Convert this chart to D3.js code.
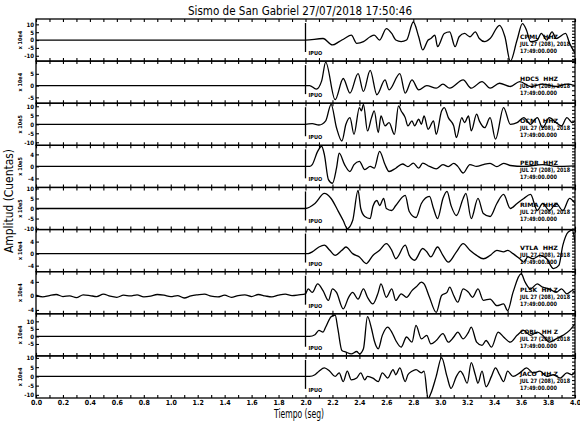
<!DOCTYPE html>
<html><head><meta charset="utf-8">
<script src="https://cdn.jsdelivr.net/npm/d3@7"></script>
<style>body{margin:0;background:#fff} svg{display:block}</style>
</head><body><svg id="c" width="580" height="428"></svg>
<script>
// ---------- data ----------
const title = "Sismo de San Gabriel 27/07/2018 17:50:46";
const xTitle = "Tiempo (seg)";
const yTitle = "Amplitud (Cuentas)";
const stations = ["CPML  HHZ","HDC5  HHZ","OCM   HHZ","PEDR  HHZ","RIMA  HHZ","VTLA  HHZ","PLSK  HH Z","COBL  HH Z","JACO  HH Z"];
const dateLabel = "JUL 27 (208), 2018";
const timeLabel = "17:49:00.000";
const pickLabel = "IPUO";
const pickTime = 2.0;
const exponents = ["x 10e4","x 10e4","x 10e5","x 10e5","x 10e5","x 10e4","x 10e4","x 10e4","x 10e4"];
const yDomains = [[-13.4,13.4],[-7.5,10.4],[-11.7,11.7],[-7,7],[-10.5,10.5],[-6,8],[-5.1,6.9],[-12.9,15],[-11.7,11.1]];
const yTickValues = [[-10,-5,0,5,10],[-5,0,5],[-10,-5,0,5,10],[-4,0,4],[-10,-5,0,5,10],[-4,0,4],[-4,0,4],[-5,0,5,10],[-10,-5,0,5,10]];
const xTickLabels = ["0.0","0.2","0.4","0.6","0.8","1.0","1.2","1.4","1.6","1.8","2.0","2.2","2.4","2.6","2.8","3.0","3.2","3.4","3.6","3.8","4.0"];

const trace1 = [[0,0],[1.9,0],[2.0,0],[2.13,1.0],[2.20,-3.1],[2.25,-1.0],[2.29,1.0],[2.34,3.1],[2.38,-2.1],[2.43,-1.0],[2.48,2.1],[2.51,3.1],[2.55,0],[2.60,7.3],[2.64,4.2],[2.67,0],[2.71,-1.0],[2.75,0],[2.80,11.5],[2.84,2.1],[2.87,-6.3],[2.91,0],[2.93,1.0],[2.96,3.1],[2.98,-4.2],[3.03,4.2],[3.07,5.2],[3.11,-4.2],[3.14,2.1],[3.18,4.2],[3.22,2.1],[3.26,5.2],[3.29,1.0],[3.33,-1.0],[3.37,1.0],[3.44,9.4],[3.48,2.1],[3.52,-13.5],[3.57,0],[3.61,10.4],[3.64,6.3],[3.67,-1.0],[3.72,0],[3.75,4.2],[3.79,0],[3.83,5.2],[3.86,1.0],[3.93,4.2],[3.96,-2.1],[4.00,-8.3]];
const trace2 = [[0,0],[1.9,0],[2.0,0],[2.03,0],[2.08,-1.5],[2.12,2],[2.15,10],[2.22,-6],[2.28,3],[2.33,-3.2],[2.39,5.1],[2.43,-2.5],[2.48,6.5],[2.53,-3.9],[2.59,2.4],[2.62,-1.8],[2.70,5.1],[2.74,-3.2],[2.79,2.4],[2.84,-1.8],[2.90,0],[2.97,-1.1],[3.02,0.6],[3.07,-1.1],[3.17,2.4],[3.23,-1.1],[3.31,1.7],[3.37,-1.1],[3.44,1],[3.52,-0.4],[3.59,1.7],[3.67,-0.4],[3.76,0.6],[3.86,-0.4],[3.94,0.6],[4.0,0]];
const trace3 = [[0,0],[1.9,0],[2.0,0],[2.05,0.4],[2.10,-0.4],[2.15,1.9],[2.19,11.1],[2.23,-1.9],[2.27,-9.3],[2.30,0],[2.33,3.7],[2.36,-5.6],[2.40,9.3],[2.415,7.5],[2.43,11.1],[2.46,-3.7],[2.49,3.7],[2.51,7.4],[2.54,-4.6],[2.56,4.6],[2.59,-0.9],[2.62,0.9],[2.66,-5.6],[2.69,10.2],[2.71,7.4],[2.74,3.7],[2.76,-0.9],[2.79,1.9],[2.81,-0.9],[2.84,2.8],[2.86,0],[2.88,4.6],[2.91,-2.8],[2.95,1.9],[2.97,-5.6],[3.01,7.4],[3.03,9.3],[3.06,3.7],[3.10,-0.9],[3.12,-7.4],[3.16,3.7],[3.18,0.9],[3.21,4.6],[3.23,-3.7],[3.27,5.6],[3.29,1.9],[3.33,-1.9],[3.37,3.7],[3.41,-8.3],[3.47,9.3],[3.52,0],[3.57,0.9],[3.62,3.7],[3.67,0],[3.72,3.7],[3.76,-1.9],[3.81,3.7],[3.86,0.9],[3.90,-0.9],[3.94,3.7],[3.98,0.9],[4.0,1.9]];
const trace4 = [[0,0],[1.9,0],[2.0,0],[2.03,0],[2.05,0.6],[2.09,5],[2.12,6.7],[2.14,3.9],[2.17,-4.4],[2.20,-5.6],[2.23,-0.6],[2.25,4.4],[2.29,0.6],[2.33,-1.7],[2.36,0.6],[2.40,1.7],[2.44,-1.1],[2.48,0],[2.51,-0.6],[2.55,5],[2.59,0.6],[2.62,-1.7],[2.67,-0.6],[2.72,0.8],[2.76,-0.1],[2.80,1.1],[2.84,-0.6],[2.87,1.1],[2.92,0],[2.97,-0.8],[3.02,0.6],[3.06,-0.1],[3.10,1],[3.13,0],[3.17,-2.2],[3.22,0.6],[3.27,0],[3.32,0.6],[3.37,1],[3.42,-0.1],[3.47,1],[3.52,0.3],[3.62,0],[3.76,0.6],[3.86,0],[4.0,0.2]];
const trace5 = [[0,0],[1.9,0],[2.0,0],[2.07,2.5],[2.14,7.5],[2.19,5],[2.24,-1],[2.28,-6],[2.31,-10],[2.35,-6],[2.39,9],[2.41,0],[2.44,-4],[2.48,-5],[2.50,1],[2.53,4],[2.55,1.5],[2.58,5],[2.60,0],[2.64,-1],[2.67,1.5],[2.74,6.5],[2.77,-1.5],[2.82,-4.5],[2.86,2.5],[2.92,6],[2.95,0],[2.98,-5],[3.02,5],[3.05,8.5],[3.08,1.5],[3.12,-3.5],[3.17,5],[3.19,7.5],[3.23,-5],[3.28,5],[3.32,-2.5],[3.37,-4],[3.42,2.5],[3.47,7],[3.52,0],[3.57,2.5],[3.62,5],[3.67,7],[3.72,-1],[3.76,2.5],[3.81,-1],[3.86,2.5],[3.91,-1],[3.96,5],[4.0,2.5]];
const trace6 = [[0,0],[1.9,0],[2.0,0],[2.02,0],[2.05,0.6],[2.10,2.2],[2.14,2.8],[2.18,1.1],[2.22,-0.6],[2.27,1.1],[2.30,2.2],[2.35,0],[2.40,-1.1],[2.45,-3.3],[2.50,-0.6],[2.55,1.1],[2.60,3.3],[2.64,1.1],[2.67,-1.7],[2.74,2.8],[2.77,-0.6],[2.81,-2.2],[2.87,1.7],[2.90,0.6],[2.93,-1.1],[2.98,2.2],[3.02,-0.6],[3.06,-2.8],[3.12,0.6],[3.17,3.3],[3.22,1.1],[3.27,-0.6],[3.32,-1.7],[3.37,-0.6],[3.42,1.1],[3.47,0.6],[3.50,1.1],[3.54,0],[3.59,-1.7],[3.62,-2.8],[3.65,-1.1],[3.69,-1.7],[3.74,-0.6],[3.79,-1.7],[3.84,-5],[3.88,-3.9],[3.91,2.8],[3.95,7.2],[3.98,7.8],[4.0,3.9]];
const noise7 = [0.2,-0.3,0.1,0.4,-0.2,0.0,-0.5,0.3,0.1,-0.2,0.5,-0.1,-0.4,0.2,0.0,0.3,-0.3,-0.1,0.4,0.2,-0.2,0.1,-0.6,0.0,0.3,0.5,-0.1,-0.3,0.2,-0.4,0.1,0.3,-0.2,0.4,0.0,-0.3,0.2,0.5,0.1,0.3];
const trace7 = [[2.0,0.6],[2.02,2.0],[2.05,1.0],[2.09,3.4],[2.13,1.5],[2.17,-1.3],[2.20,2.0],[2.23,1.0],[2.28,-3.7],[2.32,-0.4],[2.35,1.0],[2.39,-0.9],[2.43,2.0],[2.46,-0.4],[2.50,-2.3],[2.54,1.0],[2.56,3.4],[2.60,-0.4],[2.64,2.0],[2.67,-1.3],[2.71,0.6],[2.75,-0.4],[2.79,1.5],[2.82,2.5],[2.86,3.9],[2.88,3.4],[2.92,-0.4],[2.97,-4.7],[3.01,0.1],[3.05,1.0],[3.07,2.5],[3.10,0.1],[3.13,-1.8],[3.17,2.0],[3.21,1.0],[3.24,-0.4],[3.28,2.0],[3.32,-1.3],[3.37,-0.9],[3.42,-2.8],[3.47,-2.3],[3.50,-4.2],[3.54,1.0],[3.60,6.3],[3.63,3.9],[3.67,2.0],[3.72,3.4],[3.76,2.5],[3.81,2.0],[3.86,1.0],[3.90,2.0],[3.94,0.6],[3.98,1.5],[4.0,1.0]];
const trace8 = [[0,0],[1.9,0],[2.0,0],[2.03,0],[2.07,1.1],[2.10,4.0],[2.13,2.9],[2.15,6.2],[2.19,13.1],[2.22,14.2],[2.24,5.1],[2.27,-9.3],[2.30,-10.4],[2.34,-11.6],[2.38,-10.0],[2.40,-11.6],[2.43,-8.2],[2.46,13.1],[2.49,5.1],[2.51,-2.7],[2.54,-8.2],[2.57,0.7],[2.61,6.2],[2.64,2.9],[2.67,-2.7],[2.71,-7.1],[2.75,-0.4],[2.79,-3.8],[2.82,7.3],[2.86,-1.6],[2.90,0.7],[2.93,-4.9],[2.97,-2.7],[3.02,1.8],[3.06,-3.8],[3.10,-0.4],[3.13,2.9],[3.17,-1.6],[3.21,2.9],[3.23,6.2],[3.27,-3.8],[3.31,-6.0],[3.34,-2.7],[3.38,-7.1],[3.43,2.9],[3.47,-0.4],[3.52,-3.8],[3.57,0.7],[3.62,4.0],[3.67,0.7],[3.72,2.9],[3.76,0.7],[3.81,-3.8],[3.86,-1.6],[3.91,0.7],[3.96,4.0],[4.0,8.4]];
const trace9 = [[0,0],[1.9,0],[2.0,0],[2.03,0],[2.07,0.9],[2.10,2.8],[2.14,4.6],[2.18,2.8],[2.22,0],[2.25,1.9],[2.28,-2.8],[2.31,2.8],[2.34,-1.9],[2.38,-0.9],[2.41,1.9],[2.44,-1.9],[2.46,0],[2.50,-0.9],[2.54,-2.8],[2.57,1.9],[2.61,-0.9],[2.65,3.7],[2.67,0.9],[2.70,4.6],[2.74,-2.8],[2.76,0.9],[2.79,2.8],[2.82,3.7],[2.86,1.9],[2.88,2.8],[2.91,-12],[2.93,-9.3],[2.97,0],[3.01,10.2],[3.05,0],[3.08,-6.5],[3.12,0],[3.15,2.8],[3.17,0.9],[3.20,-3.7],[3.23,7.4],[3.26,0.9],[3.28,-3.7],[3.31,2.8],[3.34,-5.6],[3.38,0],[3.41,4.6],[3.44,0.9],[3.47,-2.8],[3.50,2.8],[3.54,0],[3.59,1.9],[3.64,4.6],[3.69,1.9],[3.74,2.8],[3.79,0],[3.84,0.9],[3.89,-0.9],[3.94,1.9],[3.98,0.9],[4.0,2.8]];

// noise of PLSK before the pick, sampled every 0.05 s
const noiseTimes = d3.range(noise7.length).map(i => i * 0.05);
const traces = [trace1, trace2, trace3, trace4, trace5, trace6,
  noiseTimes.map((t, i) => [t, noise7[i]]).concat(trace7), trace8, trace9];

// ---------- drawing ----------
const FONT = "'Liberation Sans Narrow','DejaVu Sans Condensed','Arial Narrow','Liberation Sans',sans-serif";
const svg = d3.select("#c");
const W = 580, H = 428;
const plotTop = 19, plotBottom = 398, plotLeft = 36, plotRight = 575;
const nP = traces.length;
const x = d3.scaleLinear([0, 4], [plotLeft, plotRight]);
const band = d3.scaleLinear([0, nP], [plotTop, plotBottom]);
const SW = 1.3;
const labelWidths = [38, 50, 37];

svg.append("rect").attr("width", W).attr("height", H).attr("fill", "#fff");
const defs = svg.append("defs");

traces.forEach((tr, i) => {
  const top = band(i), bot = band(i + 1);
  const y = d3.scaleLinear(yDomains[i], [bot, top]);
  const g = svg.append("g");

  defs.append("clipPath").attr("id", "clip" + i)
    .append("rect").attr("x", plotLeft).attr("y", top).attr("width", plotRight - plotLeft).attr("height", bot - top);

  // trace
  g.append("path")
    .attr("clip-path", `url(#clip${i})`)
    .attr("d", d3.line().x(d => x(d[0])).y(d => y(d[1])).curve(d3.curveMonotoneX)(tr))
    .attr("fill", "none").attr("stroke", "#000").attr("stroke-width", SW).attr("stroke-linejoin", "round");

  // top ticks
  const tv = d3.range(0, 41).map(k => k / 10);
  const at = g.append("g").attr("transform", `translate(0,${top})`)
    .call(d3.axisTop(x).tickValues(tv).tickSize(-3).tickFormat(""));
  at.select(".domain").remove();
  // bottom ticks
  const ab = g.append("g").attr("transform", `translate(0,${bot})`)
    .call(d3.axisBottom(x).tickValues(tv).tickSize(-3)
      .tickFormat(i === nP - 1 ? (d => { const k = Math.round(d * 10); return k % 2 === 0 ? xTickLabels[k / 2] : ""; }) : ""));
  ab.select(".domain").remove();
  ab.selectAll("text").attr("font-family", FONT).attr("font-size", 7).attr("font-weight", "bold").attr("dy", "0.55em");

  // left axis
  const al = g.append("g").attr("transform", `translate(${plotLeft},0)`)
    .call(d3.axisLeft(y).tickValues(yTickValues[i]).tickSize(-3).tickPadding(2).tickFormat(d => String(d)));
  al.select(".domain").remove();
  al.selectAll("text").attr("font-family", FONT).attr("font-size", 6).attr("font-weight", "bold");
  // right axis minor ticks
  const ar = g.append("g").attr("transform", `translate(${plotRight},0)`)
    .call(d3.axisRight(y).ticks(10).tickSize(-3).tickFormat(""));
  ar.select(".domain").remove();
  [at, ab, al, ar].forEach(a => a.selectAll("line").attr("stroke-width", 1.1));

  // frame
  g.append("rect").attr("x", plotLeft).attr("y", top).attr("width", plotRight - plotLeft).attr("height", bot - top)
    .attr("fill", "none").attr("stroke", "#000").attr("stroke-width", SW);

  // exponent
  g.append("text").attr("transform", `translate(22,${(top + bot) / 2}) rotate(-90)`)
    .attr("text-anchor", "middle").attr("font-family", FONT).attr("font-size", 5.5).attr("font-weight", "bold")
    .text(exponents[i]);

  // pick
  g.append("line").attr("x1", x(pickTime)).attr("x2", x(pickTime)).attr("y1", top + 4).attr("y2", top + 33)
    .attr("stroke", "#000").attr("stroke-width", SW);
  g.append("text").attr("x", x(pickTime) + 3).attr("y", top + 36)
    .attr("font-family", FONT).attr("font-size", 5.5).attr("font-weight", "bold").text(pickLabel);

  // station labels
  [stations[i], dateLabel, timeLabel].forEach((s, k) => {
    g.append("text").attr("x", 520).attr("y", top + 20 + k * 7)
      .attr("font-family", FONT).attr("font-size", 6).attr("font-weight", "bold")
      .attr("textLength", labelWidths[k]).attr("lengthAdjust", "spacingAndGlyphs")
      .attr("xml:space", "preserve").text(s);
  });
});

// titles
svg.append("text").attr("x", 300).attr("y", 15).attr("text-anchor", "middle")
  .attr("font-family", FONT).attr("font-size", 12.5).attr("textLength", 224).attr("lengthAdjust", "spacingAndGlyphs")
  .attr("xml:space", "preserve").text(title);
svg.append("text").attr("x", 299).attr("y", 418).attr("text-anchor", "middle")
  .attr("font-family", FONT).attr("font-size", 12).attr("textLength", 50).attr("lengthAdjust", "spacingAndGlyphs")
  .text(xTitle);
svg.append("text").attr("transform", "translate(13,201) rotate(-90)").attr("text-anchor", "middle")
  .attr("font-family", FONT).attr("font-size", 12).attr("textLength", 104).attr("lengthAdjust", "spacingAndGlyphs")
  .text(yTitle);
</script></body></html>
